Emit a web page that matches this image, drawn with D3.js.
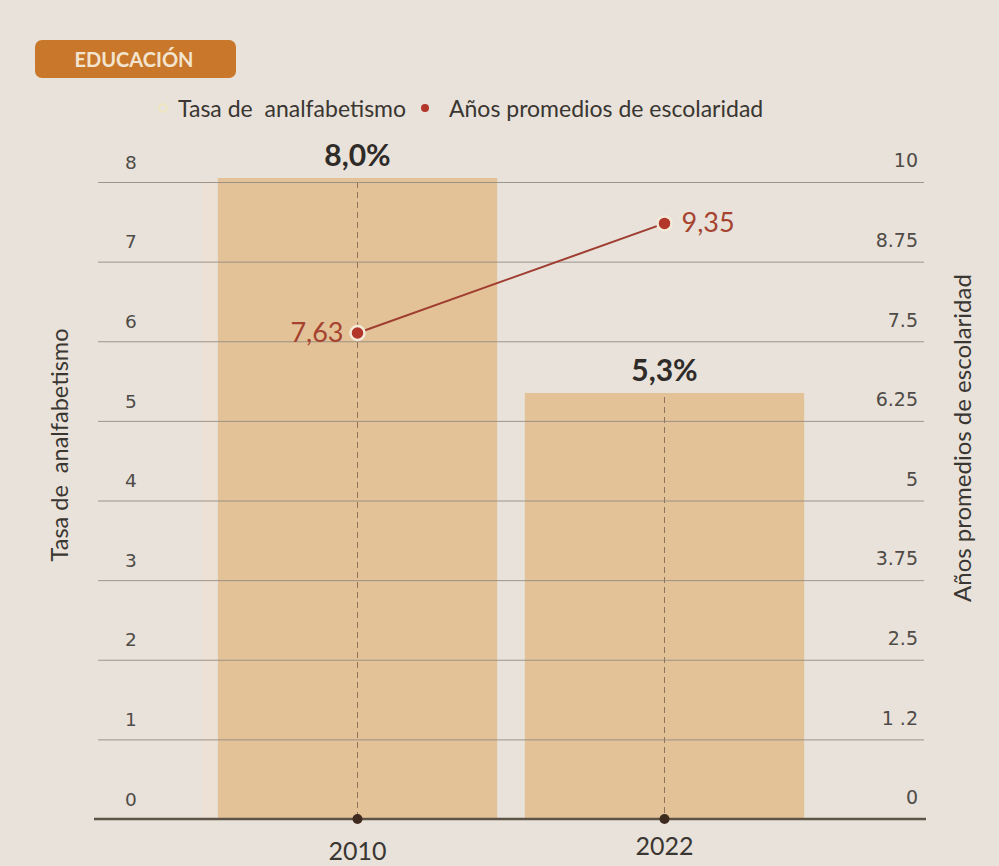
<!DOCTYPE html>
<html><head><meta charset="utf-8">
<script src="https://cdn.jsdelivr.net/npm/d3@7"></script>
<style>
html,body{margin:0;padding:0;background:#e8e2da;}
svg{display:block;}
text{white-space:pre;}
</style></head>
<body>
<svg id="c" width="999" height="866"></svg>
<script>
const years = ["2010", "2022"];
const tasaAnalfabetismo = [8.0, 5.3];
const tasaLabels = ["8,0%", "5,3%"];
const aniosEscolaridad = [7.63, 9.35];
const aniosLabels = ["7,63", "9,35"];
const leftTicks = [0, 1, 2, 3, 4, 5, 6, 7, 8];
const rightTicks = [0, 1.25, 2.5, 3.75, 5, 6.25, 7.5, 8.75, 10];
const rightTickLabels = ["0", "1 .2", "2.5", "3.75", "5", "6.25", "7.5", "8.75", "10"];

const svg = d3.select("#c");
svg.append("rect").attr("width", 999).attr("height", 866).attr("fill", "#e8e2da");

const gx0 = 98, gx1 = 924, y0 = 819, y1 = 182;
const x = d3.scaleBand().domain(years).range([204, 818]).paddingInner(0.09).paddingOuter(0.045);
const yL = d3.scaleLinear().domain([0, 8]).range([y0, y1]);
const yR = d3.scaleLinear().domain([0, 10]).range([y0, y1]);

// header badge
svg.append("rect").attr("x", 35).attr("y", 40).attr("width", 201).attr("height", 38).attr("rx", 7)
  .attr("fill", "#c9772a");
svg.append("text").attr("x", 134).attr("y", 67).attr("text-anchor", "middle")
  .attr("font-family", "Lato").attr("font-weight", "bold").attr("font-size", 20)
  .attr("fill", "#f3e4cf").text("EDUCACIÓN");

// left axis with gridlines
const gL = svg.append("g").attr("transform", `translate(${gx0},0)`)
  .call(d3.axisRight(yL).tickValues(leftTicks).tickSize(gx1 - gx0).tickFormat(d3.format("d")));
gL.select(".domain").remove();
gL.selectAll(".tick line").attr("stroke", "#8f8880").attr("stroke-width", 1);
gL.selectAll(".tick text").attr("x", 33).attr("dy", "-0.75em").attr("text-anchor", "middle")
  .attr("font-family", "DejaVu Sans").attr("font-size", 18.5).attr("fill", "#4f4b47");

// light band left of first bar
svg.append("rect").attr("x", x(years[0]) - 16).attr("width", 14).attr("y", y1).attr("height", y0 - y1)
  .attr("fill", "#efdfd2").attr("opacity", 0.7);

// bars
svg.append("g").selectAll("rect").data(years).join("rect")
  .attr("x", d => x(d)).attr("width", x.bandwidth())
  .attr("y", (d, i) => yL(tasaAnalfabetismo[i]) - 4).attr("height", (d, i) => y0 - yL(tasaAnalfabetismo[i]) + 4)
  .attr("fill", "#e3c298");

// dashed center lines
svg.append("g").selectAll("line").data(years).join("line")
  .attr("x1", d => x(d) + x.bandwidth() / 2).attr("x2", d => x(d) + x.bandwidth() / 2)
  .attr("y1", (d, i) => yL(tasaAnalfabetismo[i])).attr("y2", y0)
  .attr("stroke", "#8c7259").attr("stroke-width", 1).attr("stroke-dasharray", "6,4");

gL.raise();
gL.selectAll(".tick line").attr("stroke-opacity", 0.85);

// baseline
svg.append("line").attr("x1", gx0 - 4).attr("x2", gx1 + 2).attr("y1", y0).attr("y2", y0)
  .attr("stroke", "#5e5347").attr("stroke-width", 2.5);

// right axis
const gR = svg.append("g").attr("transform", `translate(${gx1 - 6},0)`)
  .call(d3.axisLeft(yR).tickValues(rightTicks).tickSize(0).tickPadding(0)
    .tickFormat((d, i) => rightTickLabels[i]));
gR.select(".domain").remove();
gR.selectAll(".tick text").attr("dy", "-0.8em")
  .attr("font-family", "DejaVu Sans").attr("font-size", 19).attr("fill", "#4f4b47");

// x axis dots and labels
svg.append("g").selectAll("circle").data(years).join("circle")
  .attr("cx", d => x(d) + x.bandwidth() / 2).attr("cy", y0).attr("r", 5).attr("fill", "#3e2a1e");
svg.append("g").selectAll("text").data(years).join("text")
  .attr("x", d => x(d) + x.bandwidth() / 2).attr("y", (d, i) => i === 0 ? 860 : 855)
  .attr("text-anchor", "middle").attr("font-family", "Lato").attr("font-size", 25).attr("fill", "#3a3632")
  .text(d => d);

// bar labels
svg.append("g").selectAll("text").data(years).join("text")
  .attr("x", d => x(d) + x.bandwidth() / 2).attr("y", (d, i) => yL(tasaAnalfabetismo[i]) - 16)
  .attr("text-anchor", "middle").attr("font-family", "Lato").attr("font-weight", "bold")
  .attr("font-size", 30).attr("fill", "#2f2b28").text((d, i) => tasaLabels[i]);

// line series
const pts = years.map((d, i) => [x(d) + x.bandwidth() / 2, yR(aniosEscolaridad[i])]);
svg.append("path").attr("d", d3.line()(pts)).attr("fill", "none")
  .attr("stroke", "#9f3d30").attr("stroke-width", 2);
svg.append("g").selectAll("circle").data(pts).join("circle")
  .attr("cx", d => d[0]).attr("cy", d => d[1]).attr("r", 7)
  .attr("fill", "#b2362a").attr("stroke", "#f3ead9").attr("stroke-width", 2.5);
svg.append("g").selectAll("text").data(pts).join("text")
  .attr("x", (d, i) => i === 0 ? d[0] - 14 : d[0] + 17).attr("y", d => d[1] + 9)
  .attr("text-anchor", (d, i) => i === 0 ? "end" : "start")
  .attr("font-family", "Lato").attr("font-size", 27).attr("fill", "#a5432f")
  .text((d, i) => aniosLabels[i]);

// legend
const lg = svg.append("g").attr("font-family", "Lato").attr("font-size", 23).attr("fill", "#3a3632");
lg.append("circle").attr("cx", 163).attr("cy", 108).attr("r", 4).attr("fill", "none")
  .attr("stroke", "#f2e7b8").attr("stroke-width", 1.5);
lg.append("text").attr("x", 178).attr("y", 117).text("Tasa de  analfabetismo");
lg.append("circle").attr("cx", 425).attr("cy", 108).attr("r", 4).attr("fill", "#b2362a");
lg.append("text").attr("x", 449).attr("y", 117).text("Años promedios de escolaridad");

// axis titles
svg.append("text").attr("transform", "translate(68,445) rotate(-90)").attr("text-anchor", "middle")
  .attr("font-family", "Lato").attr("font-size", 23.5).attr("fill", "#3a3632").text("Tasa de  analfabetismo");
svg.append("text").attr("transform", "translate(971,438) rotate(-90)").attr("text-anchor", "middle")
  .attr("font-family", "Lato").attr("font-size", 24).attr("fill", "#3a3632").text("Años promedios de escolaridad");
</script>
</body></html>
